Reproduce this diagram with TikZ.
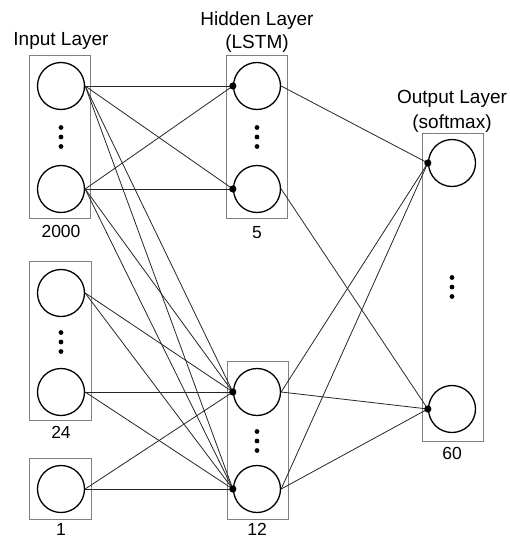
\documentclass[tikz,border=0pt]{standalone}
\usepackage{fontspec}
\setmainfont{Liberation Sans}
\begin{document}
\begin{tikzpicture}[x=1pt,y=-1pt,
  neuron/.style={circle,draw=black,line width=1.3pt,minimum size=47pt,inner sep=0pt},
  layerbox/.style={draw=black!50,line width=0.9pt},
  link/.style={draw=black!85,line width=0.8pt},
  joint/.style={fill=black},
  vdot/.style={fill=black},
  title/.style={anchor=base,inner sep=0pt,font=\fontsize{19}{22}\selectfont},
  count/.style={anchor=base,inner sep=0pt,font=\fontsize{17.5}{20}\selectfont}]
\useasboundingbox (0,0) rectangle (510,538);

% layer frames
\draw[layerbox] (29,55) rectangle (90,218);
\draw[layerbox] (29,261) rectangle (91,420);
\draw[layerbox] (29,458) rectangle (91,519);
\draw[layerbox] (226,55) rectangle (287,218);
\draw[layerbox] (227,361) rectangle (288,519);
\draw[layerbox] (422,133) rectangle (483,441);

% neurons
\node[neuron] (ia1) at (61,86) {};
\node[neuron] (ia2) at (61,189) {};
\node[neuron] (ib1) at (61,293) {};
\node[neuron] (ib2) at (61,392) {};
\node[neuron] (ic1) at (61,489) {};
\node[neuron] (ha1) at (257,86) {};
\node[neuron] (ha2) at (257,189) {};
\node[neuron] (hb1) at (257,392) {};
\node[neuron] (hb2) at (257,489) {};
\node[neuron] (o1) at (452,163) {};
\node[neuron] (o2) at (452,409) {};

% vertical ellipses
\foreach \x/\y in {61/137, 61/342, 257/137, 257/441, 452/287}{
  \fill[vdot] (\x,\y-9.5) circle (2.4pt);
  \fill[vdot] (\x,\y) circle (2.4pt);
  \fill[vdot] (\x,\y+9.5) circle (2.4pt);
}

% titles
\node[title] (tin) at (61,45) {Input Layer};
\node[title] (thid) at (257,25) {Hidden Layer};
\node[title] (thid2) at (257,48) {(LSTM)};
\node[title] (tout) at (452,103) {Output Layer};
\node[title] (tout2) at (452,128) {(softmax)};

% unit counts
\node[count] (n2000) at (61,237) {2000};
\node[count] (n24) at (61,438) {24};
\node[count] (n1) at (61,535) {1};
\node[count] (n5) at (257,238) {5};
\node[count] (n12) at (257,535) {12};
\node[count] (n60) at (452,459) {60};

% input to hidden connections
\foreach \s in {ia1,ia2}{
  \foreach \t in {ha1,ha2,hb1,hb2}{
    \draw[link] (\s.east) -- (\t.west);
  }
}
\foreach \s in {ib1,ib2,ic1}{
  \foreach \t in {hb1,hb2}{
    \draw[link] (\s.east) -- (\t.west);
  }
}
% hidden to output connections
\draw[link] (ha1.east) -- (o1.west);
\draw[link] (ha2.east) -- (o2.west);
\foreach \s in {hb1,hb2}{
  \foreach \t in {o1,o2}{
    \draw[link] (\s.east) -- (\t.west);
  }
}

% junction dots
\foreach \t in {ha1,ha2,hb1,hb2,o1,o2}{
  \fill[joint] (\t.west) circle (3.6pt);
}
\end{tikzpicture}
\end{document}
